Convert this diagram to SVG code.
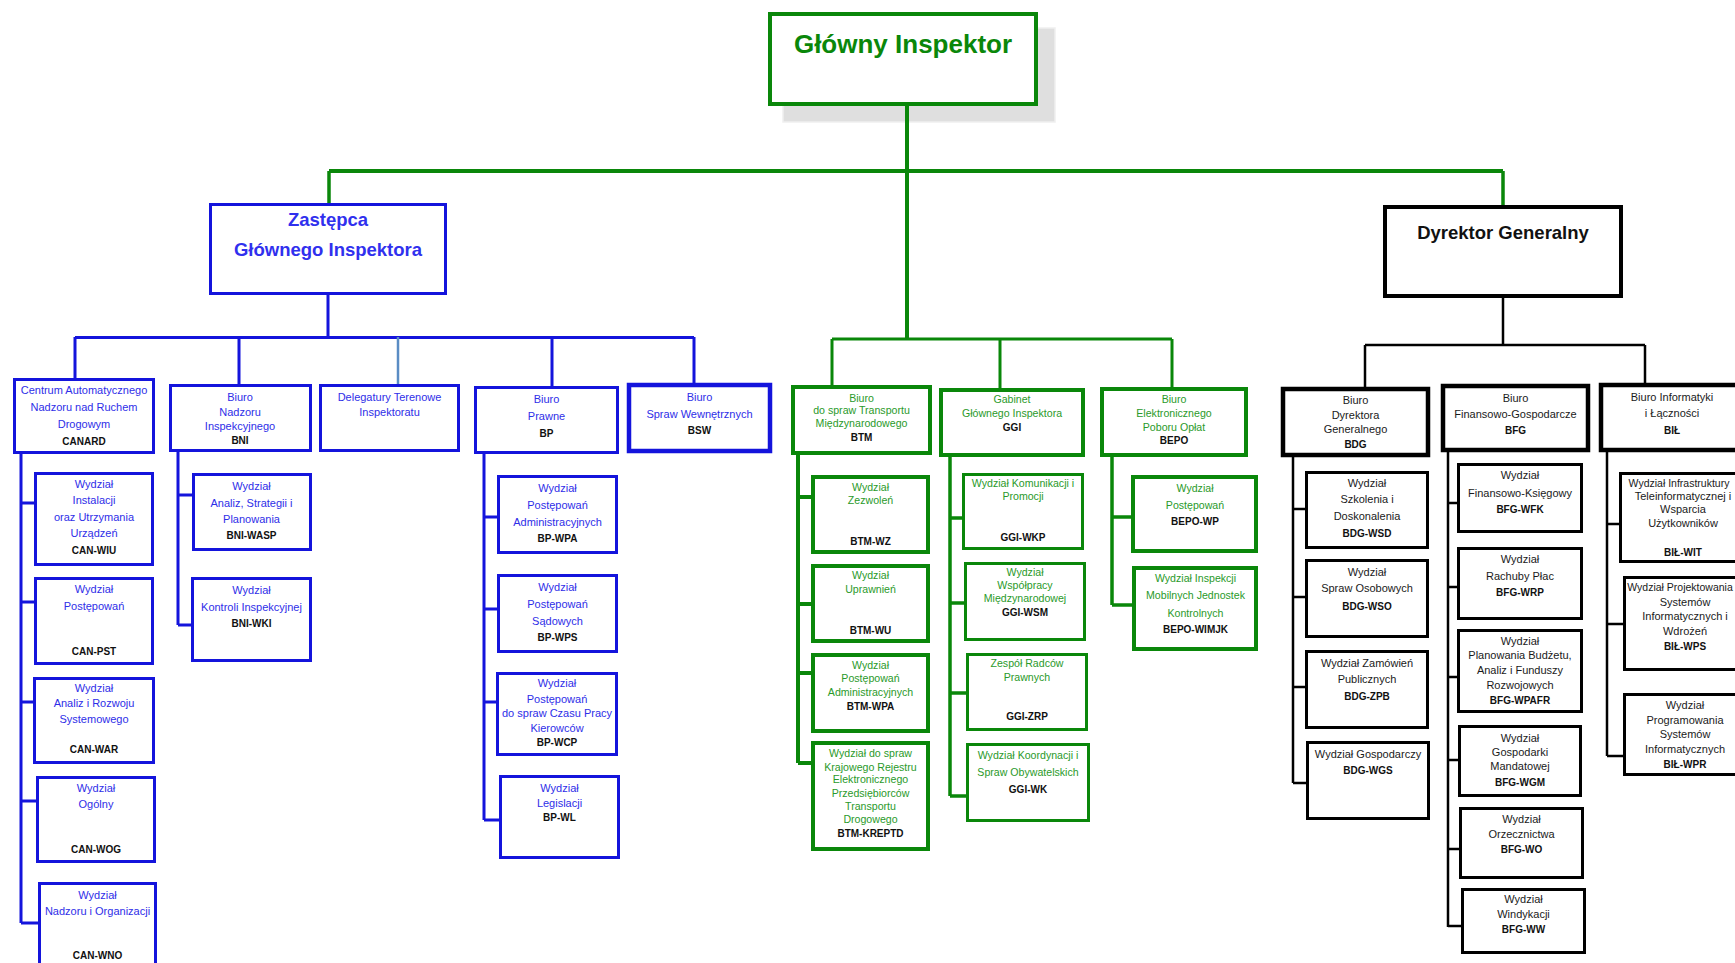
<svg xmlns="http://www.w3.org/2000/svg" width="1735" height="963" viewBox="0 0 1735 963">
<style>
text{font-family:"Liberation Sans",Arial,sans-serif;text-anchor:middle;font-size:11px}
.bt{fill:#2e2ee8}
.gt{fill:#2a9a2a;font-size:10.6px}
.kt{fill:#1a1a1a}
.c{font-weight:bold;font-size:10px;fill:#111}
.bb{fill:#fff;stroke:#1414dc;stroke-width:3}
.bb4{fill:#fff;stroke:#1414dc;stroke-width:4.5}
.gb{fill:#fff;stroke:#0a870a;stroke-width:4}
.gb3{fill:#fff;stroke:#0a870a;stroke-width:3}
.kb{fill:#fff;stroke:#000;stroke-width:4.5}
.kb3{fill:#fff;stroke:#000;stroke-width:3}
.lg{stroke:#0a870a;fill:none}
.lb{stroke:#1414dc;stroke-width:3;fill:none}
.lk{stroke:#000;stroke-width:2.5;fill:none}
</style>
<g id="glowny">
<rect x="783" y="28" width="272" height="94" fill="#dfdfdf" stroke="#efefef" stroke-width="1.5"/>
<rect x="770" y="14" width="266" height="90" fill="#fff" stroke="#0a870a" stroke-width="4"/>
<text x="903" y="53" style="font-size:26px;font-weight:bold;fill:#0a870a">Główny Inspektor</text>
</g>
<g id="connectors">
<path class="lg" stroke-width="4" d="M907 106V339M329 171H1503"/>
<path class="lg" stroke-width="3.5" d="M329 171V203M1503 171V205"/>
<path class="lg" stroke-width="3" d="M832 339H1172M832 339V385M1000 339V388M1172 339V387"/>
<path class="lb" d="M328 295V337M75 337.5H694M75 337V378M239 337V384M552 337V386M694 337V383"/>
<path d="M398 337V384" stroke="#5a8cc4" stroke-width="2.5"/>
<path class="lb" d="M21 454V923M21 503H34M21 602H34M21 702H33M21 801H36M21 923H38"/>
<path class="lb" d="M178 452V625M178 495H192M178 625H191"/>
<path class="lb" d="M484 454V820M484 517H497M484 609H497M484 702H496M484 820H499"/>
<path class="lg" stroke-width="4" d="M798 455V763M798 497H811M798 604H811M798 673H811M798 763H811"/>
<path class="lg" stroke-width="3.5" d="M950 457V796M950 518H962M950 603H964M950 693H966M950 796H966"/>
<path class="lg" stroke-width="3.5" d="M1112 457V605M1112 517H1131M1112 605H1132"/>
<path class="lk" d="M1503 298V345M1365 345H1645M1365 345V387M1645 345V383"/>
<path class="lk" d="M1293 457V783M1293 509H1305M1293 597H1305M1293 687H1305M1293 783H1306"/>
<path class="lk" d="M1448 452V927M1448 503H1457M1448 587H1457M1448 677H1457M1448 760H1458M1448 849H1459M1448 926H1461"/>
<path class="lk" d="M1607 452V756M1607 524H1619M1607 624H1623M1607 756H1623"/>
</g>
<g id="zastepca">
<rect class="bb" x="210.5" y="204.5" width="235" height="89"/>
<text x="328" y="226" style="font-size:18.5px;font-weight:bold;fill:#3030ee">Zastępca</text>
<text x="328" y="256" style="font-size:18.5px;font-weight:bold;fill:#3030ee">Głównego Inspektora</text>
</g>
<g id="dyrektor">
<rect x="1385" y="207" width="236" height="89" fill="#fff" stroke="#000" stroke-width="4"/>
<text x="1503" y="239" style="font-size:18.5px;font-weight:bold;fill:#111">Dyrektor Generalny</text>
</g>
<g id="canard">
<rect class="bb" x="14.5" y="379.5" width="139" height="73"/>
<text class="bt"><tspan x="84" y="394">Centrum Automatycznego</tspan><tspan x="84" y="411">Nadzoru nad Ruchem</tspan><tspan x="84" y="428">Drogowym</tspan></text>
<text class="c" x="84" y="445">CANARD</text>
</g>
<g id="can-wiu">
<rect class="bb" x="35.5" y="473.5" width="117" height="91"/>
<text class="bt"><tspan x="94" y="488">Wydział</tspan><tspan x="94" y="504">Instalacji</tspan><tspan x="94" y="521">oraz Utrzymania</tspan><tspan x="94" y="537">Urządzeń</tspan></text>
<text class="c" x="94" y="554">CAN-WIU</text>
</g>
<g id="can-pst">
<rect class="bb" x="35.5" y="578.5" width="117" height="85"/>
<text class="bt"><tspan x="94" y="593">Wydział</tspan><tspan x="94" y="610">Postępowań</tspan></text>
<text class="c" x="94" y="655">CAN-PST</text>
</g>
<g id="can-war">
<rect class="bb" x="34.5" y="678.5" width="119" height="84"/>
<text class="bt"><tspan x="94" y="692">Wydział</tspan><tspan x="94" y="707">Analiz i Rozwoju</tspan><tspan x="94" y="723">Systemowego</tspan></text>
<text class="c" x="94" y="753">CAN-WAR</text>
</g>
<g id="can-wog">
<rect class="bb" x="37.5" y="777.5" width="117" height="84"/>
<text class="bt"><tspan x="96" y="792">Wydział</tspan><tspan x="96" y="808">Ogólny</tspan></text>
<text class="c" x="96" y="853">CAN-WOG</text>
</g>
<g id="can-wno">
<rect class="bb" x="39.5" y="883.5" width="116" height="100"/>
<text class="bt"><tspan x="97.5" y="899">Wydział</tspan><tspan x="97.5" y="915">Nadzoru i Organizacji</tspan></text>
<text class="c" x="97.5" y="959">CAN-WNO</text>
</g>
<g id="bni">
<rect class="bb" x="170.5" y="385.5" width="140" height="65"/>
<text class="bt"><tspan x="240" y="401">Biuro</tspan><tspan x="240" y="416">Nadzoru</tspan><tspan x="240" y="430">Inspekcyjnego</tspan></text>
<text class="c" x="240" y="444">BNI</text>
</g>
<g id="bni-wasp">
<rect class="bb" x="193.5" y="474.5" width="117" height="75"/>
<text class="bt"><tspan x="251.5" y="490">Wydział</tspan><tspan x="251.5" y="507">Analiz, Strategii i</tspan><tspan x="251.5" y="523">Planowania</tspan></text>
<text class="c" x="251.5" y="539">BNI-WASP</text>
</g>
<g id="bni-wki">
<rect class="bb" x="192.5" y="578.5" width="118" height="82"/>
<text class="bt"><tspan x="251.5" y="594">Wydział</tspan><tspan x="251.5" y="611">Kontroli Inspekcyjnej</tspan></text>
<text class="c" x="251.5" y="627">BNI-WKI</text>
</g>
<g id="delegatury">
<rect class="bb" x="320.5" y="385.5" width="138" height="65"/>
<text class="bt"><tspan x="389.5" y="401">Delegatury Terenowe</tspan><tspan x="389.5" y="416">Inspektoratu</tspan></text>
</g>
<g id="bp">
<rect class="bb" x="475.5" y="387.5" width="142" height="65"/>
<text class="bt"><tspan x="546.5" y="403">Biuro</tspan><tspan x="546.5" y="420">Prawne</tspan></text>
<text class="c" x="546.5" y="437">BP</text>
</g>
<g id="bsw">
<rect class="bb4" x="629" y="385" width="141" height="66"/>
<text class="bt"><tspan x="699.5" y="401">Biuro</tspan><tspan x="699.5" y="418">Spraw Wewnętrznych</tspan></text>
<text class="c" x="699.5" y="434">BSW</text>
</g>
<g id="bp-wpa">
<rect class="bb" x="498.5" y="476.5" width="118" height="76"/>
<text class="bt"><tspan x="557.5" y="492">Wydział</tspan><tspan x="557.5" y="509">Postępowań</tspan><tspan x="557.5" y="526">Administracyjnych</tspan></text>
<text class="c" x="557.5" y="542">BP-WPA</text>
</g>
<g id="bp-wps">
<rect class="bb" x="498.5" y="575.5" width="118" height="76"/>
<text class="bt"><tspan x="557.5" y="591">Wydział</tspan><tspan x="557.5" y="608">Postępowań</tspan><tspan x="557.5" y="625">Sądowych</tspan></text>
<text class="c" x="557.5" y="641">BP-WPS</text>
</g>
<g id="bp-wcp">
<rect class="bb" x="497.5" y="673.5" width="119" height="81"/>
<text class="bt"><tspan x="557" y="687">Wydział</tspan><tspan x="557" y="703">Postępowań</tspan><tspan x="557" y="717">do spraw Czasu Pracy</tspan><tspan x="557" y="732">Kierowców</tspan></text>
<text class="c" x="557" y="746">BP-WCP</text>
</g>
<g id="bp-wl">
<rect class="bb" x="500.5" y="776.5" width="118" height="81"/>
<text class="bt"><tspan x="559.5" y="792">Wydział</tspan><tspan x="559.5" y="807">Legislacji</tspan></text>
<text class="c" x="559.5" y="821">BP-WL</text>
</g>
<g id="btm">
<rect class="gb" x="793" y="387" width="137" height="66"/>
<text class="gt"><tspan x="861.5" y="402">Biuro</tspan><tspan x="861.5" y="414">do spraw Transportu</tspan><tspan x="861.5" y="427">Międzynarodowego</tspan></text>
<text class="c" x="861.5" y="441">BTM</text>
</g>
<g id="ggi">
<rect class="gb" x="941" y="390" width="142" height="65"/>
<text class="gt"><tspan x="1012" y="403">Gabinet</tspan><tspan x="1012" y="417">Głównego Inspektora</tspan></text>
<text class="c" x="1012" y="431">GGI</text>
</g>
<g id="bepo">
<rect class="gb" x="1102" y="389" width="144" height="66"/>
<text class="gt"><tspan x="1174" y="403">Biuro</tspan><tspan x="1174" y="417">Elektronicznego</tspan><tspan x="1174" y="431">Poboru Opłat</tspan></text>
<text class="c" x="1174" y="444">BEPO</text>
</g>
<g id="btm-wz">
<rect class="gb" x="813" y="477" width="115" height="75"/>
<text class="gt"><tspan x="870.5" y="491">Wydział</tspan><tspan x="870.5" y="504">Zezwoleń</tspan></text>
<text class="c" x="870.5" y="545">BTM-WZ</text>
</g>
<g id="btm-wu">
<rect class="gb" x="813" y="566" width="115" height="75"/>
<text class="gt"><tspan x="870.5" y="579">Wydział</tspan><tspan x="870.5" y="593">Uprawnień</tspan></text>
<text class="c" x="870.5" y="634">BTM-WU</text>
</g>
<g id="btm-wpa">
<rect class="gb" x="813" y="655" width="115" height="76"/>
<text class="gt"><tspan x="870.5" y="669">Wydział</tspan><tspan x="870.5" y="682">Postępowań</tspan><tspan x="870.5" y="696">Administracyjnych</tspan></text>
<text class="c" x="870.5" y="710">BTM-WPA</text>
</g>
<g id="btm-kreptd">
<rect class="gb" x="813" y="743" width="115" height="106"/>
<text class="gt"><tspan x="870.5" y="757">Wydział do spraw</tspan><tspan x="870.5" y="771">Krajowego Rejestru</tspan><tspan x="870.5" y="783">Elektronicznego</tspan><tspan x="870.5" y="797">Przedsiębiorców</tspan><tspan x="870.5" y="810">Transportu</tspan><tspan x="870.5" y="823">Drogowego</tspan></text>
<text class="c" x="870.5" y="837">BTM-KREPTD</text>
</g>
<g id="ggi-wkp">
<rect class="gb3" x="963.5" y="474.5" width="119" height="74"/>
<text class="gt"><tspan x="1023" y="487">Wydział Komunikacji i</tspan><tspan x="1023" y="500">Promocji</tspan></text>
<text class="c" x="1023" y="541">GGI-WKP</text>
</g>
<g id="ggi-wsm">
<rect class="gb3" x="965.5" y="563.5" width="119" height="76"/>
<text class="gt"><tspan x="1025" y="576">Wydział</tspan><tspan x="1025" y="589">Współpracy</tspan><tspan x="1025" y="602">Międzynarodowej</tspan></text>
<text class="c" x="1025" y="616">GGI-WSM</text>
</g>
<g id="ggi-zrp">
<rect class="gb3" x="967.5" y="654.5" width="119" height="75"/>
<text class="gt"><tspan x="1027" y="667">Zespół Radców</tspan><tspan x="1027" y="681">Prawnych</tspan></text>
<text class="c" x="1027" y="720">GGI-ZRP</text>
</g>
<g id="ggi-wk">
<rect class="gb3" x="967.5" y="744.5" width="121" height="76"/>
<text class="gt"><tspan x="1028" y="759">Wydział Koordynacji i</tspan><tspan x="1028" y="776">Spraw Obywatelskich</tspan></text>
<text class="c" x="1028" y="793">GGI-WK</text>
</g>
<g id="bepo-wp">
<rect class="gb" x="1133" y="477" width="123" height="74"/>
<text class="gt"><tspan x="1195" y="492">Wydział</tspan><tspan x="1195" y="509">Postępowań</tspan></text>
<text class="c" x="1195" y="525">BEPO-WP</text>
</g>
<g id="bepo-wimjk">
<rect class="gb" x="1134" y="568" width="122" height="81"/>
<text class="gt"><tspan x="1195.5" y="582">Wydział Inspekcji</tspan><tspan x="1195.5" y="599">Mobilnych Jednostek</tspan><tspan x="1195.5" y="617">Kontrolnych</tspan></text>
<text class="c" x="1195.5" y="633">BEPO-WIMJK</text>
</g>
<g id="bdg">
<rect class="kb" x="1283" y="389" width="145" height="66"/>
<text class="kt"><tspan x="1355.5" y="404">Biuro</tspan><tspan x="1355.5" y="419">Dyrektora</tspan><tspan x="1355.5" y="433">Generalnego</tspan></text>
<text class="c" x="1355.5" y="448">BDG</text>
</g>
<g id="bfg">
<rect class="kb" x="1443" y="386" width="145" height="64"/>
<text class="kt"><tspan x="1515.5" y="402">Biuro</tspan><tspan x="1515.5" y="418">Finansowo-Gospodarcze</tspan></text>
<text class="c" x="1515.5" y="434">BFG</text>
</g>
<g id="bil">
<rect class="kb" x="1601" y="385" width="142" height="65"/>
<text class="kt"><tspan x="1672" y="401">Biuro Informatyki</tspan><tspan x="1672" y="417">i Łączności</tspan></text>
<text class="c" x="1672" y="434">BIŁ</text>
</g>
<g id="bdg-wsd">
<rect class="kb3" x="1306.5" y="472.5" width="121" height="75"/>
<text class="kt"><tspan x="1367" y="487">Wydział</tspan><tspan x="1367" y="503">Szkolenia i</tspan><tspan x="1367" y="520">Doskonalenia</tspan></text>
<text class="c" x="1367" y="537">BDG-WSD</text>
</g>
<g id="bdg-wso">
<rect class="kb3" x="1306.5" y="560.5" width="121" height="76"/>
<text class="kt"><tspan x="1367" y="576">Wydział</tspan><tspan x="1367" y="592">Spraw Osobowych</tspan></text>
<text class="c" x="1367" y="610">BDG-WSO</text>
</g>
<g id="bdg-zpb">
<rect class="kb3" x="1306.5" y="651.5" width="121" height="76"/>
<text class="kt"><tspan x="1367" y="667">Wydział Zamówień</tspan><tspan x="1367" y="683">Publicznych</tspan></text>
<text class="c" x="1367" y="700">BDG-ZPB</text>
</g>
<g id="bdg-wgs">
<rect class="kb3" x="1307.5" y="742.5" width="121" height="76"/>
<text class="kt" x="1368" y="758">Wydział Gospodarczy</text>
<text class="c" x="1368" y="774">BDG-WGS</text>
</g>
<g id="bfg-wfk">
<rect class="kb3" x="1458.5" y="464.5" width="123" height="67"/>
<text class="kt"><tspan x="1520" y="479">Wydział</tspan><tspan x="1520" y="497">Finansowo-Księgowy</tspan></text>
<text class="c" x="1520" y="513">BFG-WFK</text>
</g>
<g id="bfg-wrp">
<rect class="kb3" x="1458.5" y="548.5" width="123" height="70"/>
<text class="kt"><tspan x="1520" y="563">Wydział</tspan><tspan x="1520" y="580">Rachuby Płac</tspan></text>
<text class="c" x="1520" y="596">BFG-WRP</text>
</g>
<g id="bfg-wpafr">
<rect class="kb3" x="1458.5" y="630.5" width="123" height="81"/>
<text class="kt"><tspan x="1520" y="645">Wydział</tspan><tspan x="1520" y="659">Planowania Budżetu,</tspan><tspan x="1520" y="674">Analiz i Funduszy</tspan><tspan x="1520" y="689">Rozwojowych</tspan></text>
<text class="c" x="1520" y="704">BFG-WPAFR</text>
</g>
<g id="bfg-wgm">
<rect class="kb3" x="1459.5" y="726.5" width="121" height="69"/>
<text class="kt"><tspan x="1520" y="742">Wydział</tspan><tspan x="1520" y="756">Gospodarki</tspan><tspan x="1520" y="770">Mandatowej</tspan></text>
<text class="c" x="1520" y="786">BFG-WGM</text>
</g>
<g id="bfg-wo">
<rect class="kb3" x="1460.5" y="808.5" width="122" height="69"/>
<text class="kt"><tspan x="1521.5" y="823">Wydział</tspan><tspan x="1521.5" y="838">Orzecznictwa</tspan></text>
<text class="c" x="1521.5" y="853">BFG-WO</text>
</g>
<g id="bfg-ww">
<rect class="kb3" x="1462.5" y="889.5" width="122" height="63"/>
<text class="kt"><tspan x="1523.5" y="903">Wydział</tspan><tspan x="1523.5" y="918">Windykacji</tspan></text>
<text class="c" x="1523.5" y="933">BFG-WW</text>
</g>
<g id="bil-wit">
<rect class="kb3" x="1620.5" y="473.5" width="126" height="88"/>
<text class="kt"><tspan x="1679" y="487" style="font-size:10.5px">Wydział Infrastruktury</tspan><tspan x="1683" y="500">Teleinformatycznej i</tspan><tspan x="1683" y="513">Wsparcia</tspan><tspan x="1683" y="527">Użytkowników</tspan></text>
<text class="c" x="1683" y="556">BIŁ-WIT</text>
</g>
<g id="bil-wps">
<rect class="kb3" x="1624.5" y="577.5" width="124" height="92"/>
<text class="kt"><tspan x="1680" y="591" style="font-size:10.5px">Wydział Projektowania</tspan><tspan x="1685" y="606">Systemów</tspan><tspan x="1685" y="620">Informatycznych i</tspan><tspan x="1685" y="635">Wdrożeń</tspan></text>
<text class="c" x="1685" y="650">BIŁ-WPS</text>
</g>
<g id="bil-wpr">
<rect class="kb3" x="1624.5" y="694.5" width="124" height="80"/>
<text class="kt"><tspan x="1685" y="709">Wydział</tspan><tspan x="1685" y="724">Programowania</tspan><tspan x="1685" y="738">Systemów</tspan><tspan x="1685" y="753">Informatycznych</tspan></text>
<text class="c" x="1685" y="768">BIŁ-WPR</text>
</g>
</svg>
